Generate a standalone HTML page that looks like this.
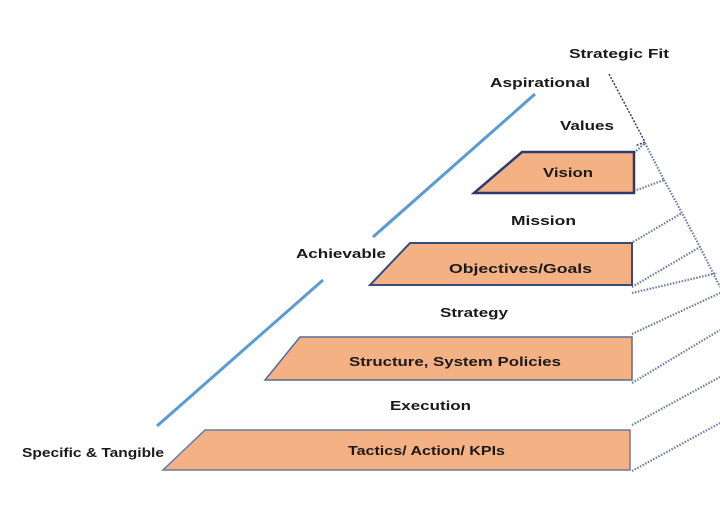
<!DOCTYPE html>
<html><head><style>
body{margin:0;background:#fff;}
svg text{font-family:"Liberation Sans",sans-serif;font-size:13px;font-weight:bold;fill:#1a1a1a;}
</style></head><body>
<svg width="720" height="518" viewBox="0 0 720 518" xmlns="http://www.w3.org/2000/svg">
<rect width="720" height="518" fill="#fff"/>
<line x1="157" y1="426" x2="323" y2="280" stroke="#5b9bd5" stroke-width="3"/>
<line x1="373" y1="237" x2="535" y2="94" stroke="#5b9bd5" stroke-width="3"/>
<polyline points="609,74 645,142 635,146" stroke="#2f3a6a" stroke-width="1.5" stroke-dasharray="2,1.5" fill="none"/>
<g stroke="#6a7aa0" stroke-width="2.2" stroke-dasharray="1.5,1.5" fill="none">
<polyline points="634,153 645,143 664,180 634,191"/>
<polyline points="664,180 682,213 700,247 720,287"/>
<line x1="633" y1="242" x2="682" y2="213"/>
<line x1="632" y1="287" x2="700" y2="247"/>
<line x1="632" y1="293" x2="717" y2="273"/>
<line x1="632" y1="334" x2="720" y2="293"/>
<line x1="632" y1="383" x2="720" y2="330"/>
<line x1="632" y1="425" x2="720" y2="377"/>
<line x1="632" y1="471" x2="720" y2="423"/>
</g>
<g fill="#f4b183">
<polygon points="522,152 634,152 634,193 474,193" stroke="#2f3a6a" stroke-width="2.5"/>
<polygon points="410,243 632,243 632,285 370,285" stroke="#3a4a7a" stroke-width="2"/>
<polygon points="300,337 632,337 632,380 265,380" stroke="#5a6a90" stroke-width="1.5"/>
<polygon points="205,430 630,430 630,470 163,470" stroke="#6a7aa0" stroke-width="1.5"/>
</g>
<text x="569" y="58" textLength="100" lengthAdjust="spacingAndGlyphs">Strategic Fit</text>
<text x="490" y="87" textLength="100" lengthAdjust="spacingAndGlyphs">Aspirational</text>
<text x="560" y="130" textLength="54" lengthAdjust="spacingAndGlyphs">Values</text>
<text x="543" y="177" font-size="14" textLength="50" lengthAdjust="spacingAndGlyphs">Vision</text>
<text x="511" y="225" textLength="65" lengthAdjust="spacingAndGlyphs">Mission</text>
<text x="449" y="273" font-size="14" textLength="143" lengthAdjust="spacingAndGlyphs">Objectives/Goals</text>
<text x="296" y="258" textLength="90" lengthAdjust="spacingAndGlyphs">Achievable</text>
<text x="440" y="317" textLength="68" lengthAdjust="spacingAndGlyphs">Strategy</text>
<text x="349" y="366" font-size="14" textLength="212" lengthAdjust="spacingAndGlyphs">Structure, System Policies</text>
<text x="390" y="410" textLength="81" lengthAdjust="spacingAndGlyphs">Execution</text>
<text x="348" y="455" font-size="14" textLength="157" lengthAdjust="spacingAndGlyphs">Tactics/ Action/ KPIs</text>
<text x="22" y="457" font-size="12" textLength="142" lengthAdjust="spacingAndGlyphs">Specific &amp; Tangible</text>
</svg>
</body></html>
